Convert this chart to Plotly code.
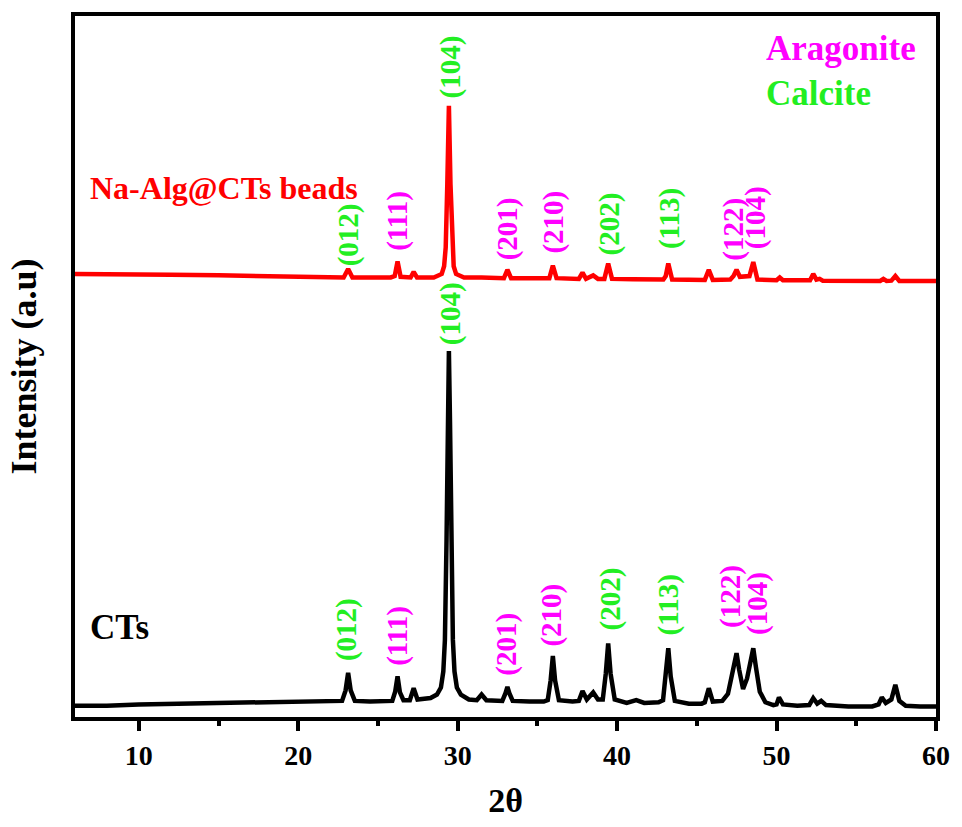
import plotly.graph_objects as go

# ---- CTs (black) pattern: 2theta and intensity (a.u.) ----
cts_x = [6, 8, 10, 13, 16, 19, 22,
         22.75, 22.97, 23.13, 23.29, 23.55,
         24.5, 25.5,
         25.9, 26.08, 26.23, 26.38, 26.6,
         27.0, 27.24, 27.48,
         28.3, 28.7, 28.95, 29.1, 29.2, 29.3, 29.38, 29.45, 29.52, 29.6, 29.7, 29.8, 29.95, 30.2, 30.7,
         31.2, 31.5, 31.8,
         32.8, 33.0, 33.12, 33.24, 33.45,
         34.5, 35.4,
         35.65, 35.83, 35.97, 36.11, 36.35,
         37.2, 37.6, 37.83, 38.1, 38.5, 38.8,
         39.1, 39.29, 39.44, 39.59, 39.85,
         40.6, 41.2, 41.7, 42.6,
         42.88, 43.06, 43.21, 43.36, 43.62,
         44.5, 45.3,
         45.5, 45.75, 46.0,
         46.6, 46.95, 47.15, 47.35, 47.49, 47.65, 47.9, 48.15, 48.38, 48.54, 48.7, 48.95, 49.3,
         49.8, 50.0, 50.15, 50.4,
         51.3, 52.05, 52.3, 52.55, 52.8, 53.1,
         54.5, 56.0, 56.4, 56.6, 56.85,
         57.2, 57.45, 57.7, 58.1,
         59, 60]
cts_y = [1.6, 1.6, 1.8, 1.9, 2.0, 2.1, 2.2,
         2.3, 3.8, 6.3, 3.8, 2.3,
         2.2, 2.3,
         2.3, 3.6, 5.8, 3.5, 2.4,
         2.4, 4.1, 2.5,
         2.7, 3.2, 4.2, 6.5, 11, 25, 42, 52.2, 42, 25, 11, 6.5, 4.2, 3.2, 2.5,
         2.4, 3.2, 2.4,
         2.3, 3.4, 4.3, 3.4, 2.3,
         2.2, 2.2,
         2.4, 5.2, 8.7, 5.2, 2.4,
         2.2, 2.3, 3.7, 2.5, 3.5, 2.5,
         2.5, 6.2, 10.5, 6.2, 2.5,
         2.0, 2.4, 2.0, 2.1,
         2.4, 5.8, 9.8, 5.8, 2.3,
         1.9, 1.9,
         2.1, 4.1, 2.2,
         2.3, 3.3, 5.2, 7.6, 9.1, 6.8, 4.0, 5.5, 8.6, 9.8, 7.2, 3.6, 2.1,
         1.7, 1.8, 2.8, 1.8,
         1.6, 1.7, 2.7, 1.9, 2.3, 1.7,
         1.5, 1.5, 1.8, 2.8, 2.0,
         2.5, 4.6, 2.3, 1.6,
         1.5, 1.5]

# ---- Na-Alg@CTs beads (red) pattern, stacked above ----
bead_x = [6, 9, 12, 15, 18, 22,
          22.85, 23.13, 23.4,
          24.5, 25.8,
          26.05, 26.23, 26.42,
          27.05, 27.24, 27.45,
          28.5, 29.0, 29.15, 29.25, 29.35, 29.45, 29.55, 29.65, 29.75, 29.9, 30.4,
          31.5, 32.9, 33.12, 33.35,
          35.0, 35.75, 35.97, 36.2,
          37.6, 37.83, 38.05, 38.5, 38.8,
          39.2, 39.44, 39.68,
          41.0, 42.9, 43.05, 43.21, 43.45,
          45.5, 45.75, 46.0,
          47.1, 47.3, 47.49, 47.7, 48.3, 48.54, 48.8,
          50.0, 50.2, 50.4,
          52.1, 52.3, 52.5, 52.7, 52.9,
          56.5, 56.7, 56.9, 57.2, 57.45, 57.7, 60]
bead_y = [63.2, 63.2, 63.1, 63.0, 62.9, 62.75,
          62.7, 63.9, 62.7,
          62.7, 62.7,
          62.9, 65.0, 62.8,
          62.7, 63.5, 62.7,
          62.7, 63.2, 64.3, 67, 76, 87.2, 76, 67, 64.3, 63.2, 62.7,
          62.7, 62.6, 63.8, 62.6,
          62.6, 62.6, 64.4, 62.6,
          62.5, 63.4, 62.5, 63.0, 62.5,
          62.5, 64.7, 62.5,
          62.45, 62.4, 62.9, 64.7, 62.4,
          62.35, 63.8, 62.35,
          62.4, 62.9, 63.8, 62.8, 62.9, 64.9, 62.4,
          62.3, 62.7, 62.3,
          62.3, 63.2, 62.4, 62.5, 62.25,
          62.2, 62.5, 62.2, 62.25, 62.9, 62.2, 62.2]

# ---- Miller index labels (phase: C = calcite, A = aragonite) ----
hkl_text = ["(012)", "(111)", "(104)", "(201)", "(210)", "(202)", "(113)", "(122)", "(104)"]
hkl_phase = ["C", "A", "C", "A", "A", "C", "C", "A", "A"]
cts_label_x = [23.03, 26.25, 29.53, 33.06, 35.9, 39.6, 43.2, 47.1, 48.8]
cts_label_y = [7.7, 7.0, 52.7, 5.6, 9.8, 12.1, 11.3, 12.4, 11.4]
bead_label_x = [23.15, 26.25, 29.53, 33.1, 36.0, 39.5, 43.3, 47.3, 48.7]
bead_label_y = [64.0, 66.2, 87.9, 64.8, 65.8, 65.5, 66.5, 64.8, 66.5]

x_ticks = [10, 20, 30, 40, 50, 60]

FONT = "Liberation Serif, Times New Roman, serif"
GREEN = "#22ee22"
MAGENTA = "#ff00ff"
phase_color = {"C": GREEN, "A": MAGENTA}

fig = go.Figure()
fig.add_trace(go.Scatter(x=cts_x, y=cts_y, mode="lines", name="CTs",
                         line=dict(color="black", width=4.5)))
fig.add_trace(go.Scatter(x=bead_x, y=bead_y, mode="lines", name="Na-Alg@CTs beads",
                         line=dict(color="#ff0000", width=4.5)))

annotations = []
for lx, ly, t, p in zip(cts_label_x, cts_label_y, hkl_text, hkl_phase):
    annotations.append(dict(x=lx, y=ly, xref="x", yref="y", text=t, textangle=-90,
                            showarrow=False, xanchor="center", yanchor="bottom",
                            font=dict(family=FONT, size=29, color=phase_color[p], weight="bold")))
for lx, ly, t, p in zip(bead_label_x, bead_label_y, hkl_text, hkl_phase):
    annotations.append(dict(x=lx, y=ly, xref="x", yref="y", text=t, textangle=-90,
                            showarrow=False, xanchor="center", yanchor="bottom",
                            font=dict(family=FONT, size=29, color=phase_color[p], weight="bold")))

annotations += [
    dict(x=6.8, y=12.8, xref="x", yref="y", text="CTs", showarrow=False,
         xanchor="left", yanchor="middle",
         font=dict(family=FONT, size=35, color="black", weight="bold")),
    dict(x=6.8, y=75.4, xref="x", yref="y", text="Na-Alg@CTs beads", showarrow=False,
         xanchor="left", yanchor="middle",
         font=dict(family=FONT, size=32, color="#ff0000", weight="bold")),
    dict(x=49.2, y=95.3, xref="x", yref="y", text="Aragonite", showarrow=False,
         xanchor="left", yanchor="middle",
         font=dict(family=FONT, size=35, color=MAGENTA, weight="bold")),
    dict(x=49.2, y=89.0, xref="x", yref="y", text="Calcite", showarrow=False,
         xanchor="left", yanchor="middle",
         font=dict(family=FONT, size=35, color=GREEN, weight="bold")),
]

fig.update_layout(
    width=962, height=827,
    margin=dict(l=75, r=15, t=15, b=110),
    paper_bgcolor="white", plot_bgcolor="white",
    showlegend=False,
    annotations=annotations,
    font=dict(family=FONT, color="black"),
)
fig.update_xaxes(
    range=[6, 60], tickvals=x_ticks, ticks="outside", ticklen=10, tickwidth=3.5,
    tickcolor="black", showline=True, linecolor="black", linewidth=4, mirror=True,
    showgrid=False, zeroline=False,
    minor=dict(dtick=5, tick0=5, ticks="outside", ticklen=5, tickwidth=3.5, tickcolor="black"),
    tickfont=dict(family=FONT, size=28, color="black", weight="bold"),
    title=dict(text="2θ", font=dict(family=FONT, size=34, color="black", weight="bold"), standoff=20),
)
fig.update_yaxes(
    range=[0, 100], showticklabels=False, ticks="", showline=True, linecolor="black",
    linewidth=4, mirror=True, showgrid=False, zeroline=False,
    title=dict(text="Intensity (a.u)", font=dict(family=FONT, size=36, color="black", weight="bold"),
               standoff=24),
)

fig.write_html("out.html")
